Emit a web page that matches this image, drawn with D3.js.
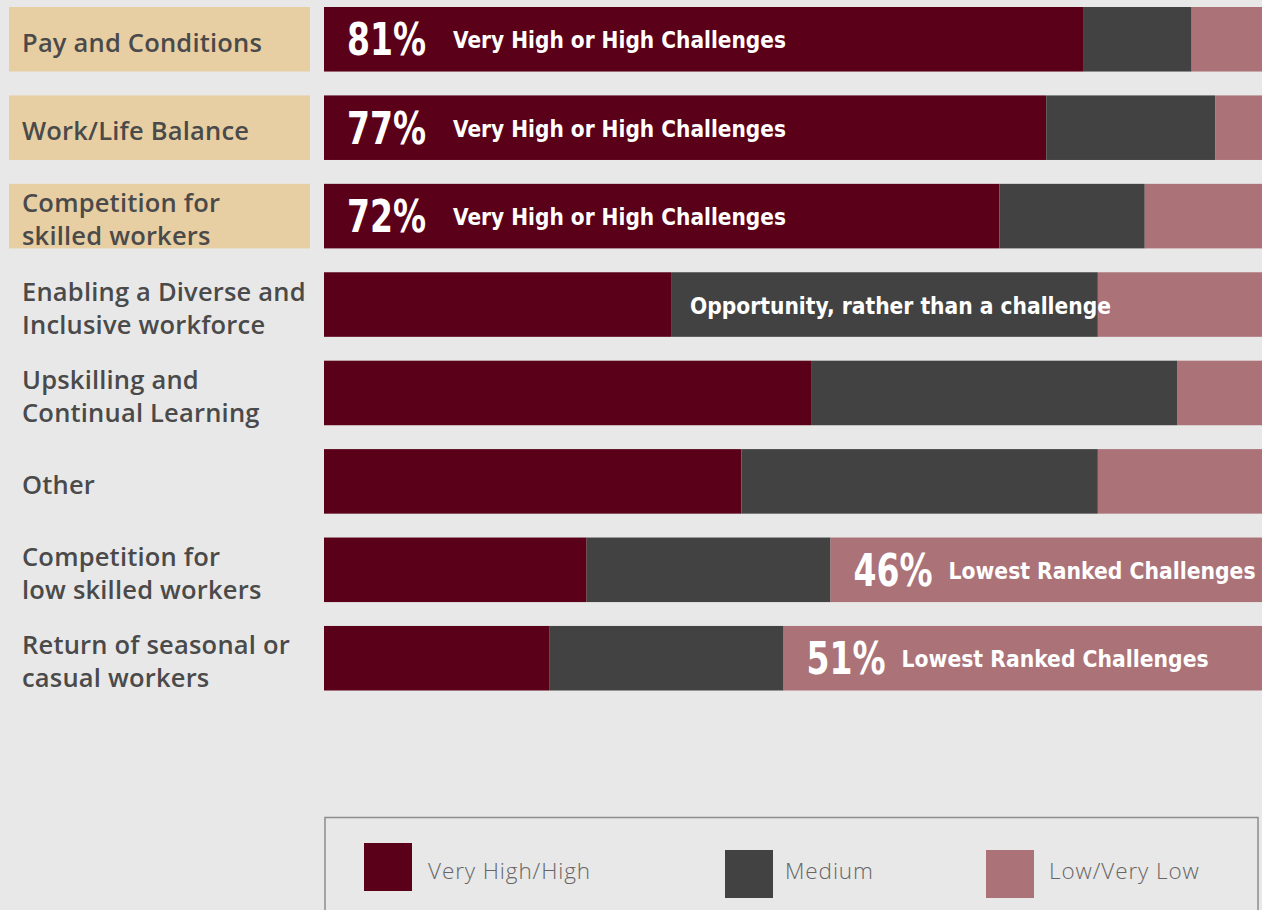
<!DOCTYPE html>
<html>
<head>
<meta charset="utf-8">
<script src="https://cdn.jsdelivr.net/npm/d3@7"></script>
<style>
  html, body { margin: 0; padding: 0; background: #e8e8e8; }
  svg { display: block; }
</style>
</head>
<body>
<svg id="chart" width="1262" height="910"></svg>
<script>
// Workforce challenges, share of respondents by rating (percent)
const categories = [
  ["Pay and Conditions"],
  ["Work/Life Balance"],
  ["Competition for", "skilled workers"],
  ["Enabling a Diverse and", "Inclusive workforce"],
  ["Upskilling and", "Continual Learning"],
  ["Other"],
  ["Competition for", "low skilled workers"],
  ["Return of seasonal or", "casual workers"]
];
const veryHighHigh = [81, 77, 72, 37, 52, 44.5, 28, 24];
const medium       = [11.5, 18, 15.5, 45.5, 39, 38, 26, 25];
const lowVeryLow   = [7.5, 5, 12.5, 17.5, 9, 17.5, 46, 51];
const highlighted  = [true, true, true, false, false, false, false, false];
const seriesNames  = ["Very High/High", "Medium", "Low/Very Low"];
const seriesColors = ["#5a0018", "#424242", "#ab7378"];

// Callouts written onto the bars: row, series, percentage shown, caption
const callouts = [
  { row: 0, series: 0, pct: "81%", text: "Very High or High Challenges" },
  { row: 1, series: 0, pct: "77%", text: "Very High or High Challenges" },
  { row: 2, series: 0, pct: "72%", text: "Very High or High Challenges" },
  { row: 3, series: 1, pct: null,  text: "Opportunity, rather than a challenge" },
  { row: 6, series: 2, pct: "46%", text: "Lowest Ranked Challenges" },
  { row: 7, series: 2, pct: "51%", text: "Lowest Ranked Challenges" }
];

const svg = d3.select("#chart");
svg.append("rect").attr("width", 1262).attr("height", 910).attr("fill", "#e8e8e8");

const rows = categories.map((c, i) => ({
  id: i,
  label: c,
  values: [veryHighHigh[i], medium[i], lowVeryLow[i]]
}));

const x = d3.scaleLinear().domain([0, 100]).range([324, 1262]);
const y = d3.scaleBand().domain(rows.map(r => r.id)).range([7, 690.5]).paddingInner(0.27).paddingOuter(0);

const stack = d3.stack().keys([0, 1, 2]).value((r, k) => r.values[k]);
const layers = stack(rows);

// category label panels
const labelG = svg.append("g");
labelG.selectAll("rect.panel")
  .data(rows.filter(r => highlighted[r.id]))
  .join("rect")
  .attr("class", "panel")
  .attr("x", 9).attr("width", 301)
  .attr("y", r => y(r.id)).attr("height", y.bandwidth())
  .attr("fill", "#e8cfa3");

labelG.selectAll("text.cat")
  .data(rows)
  .join("text")
  .attr("class", "cat")
  .attr("x", 22)
  .attr("font-family", "'Open Sans', Lato, sans-serif")
  .attr("font-weight", 600)
  .attr("font-size", 25.5)
  .attr("letter-spacing", 0.2)
  .attr("fill", "#4a4a4a")
  .each(function(r) {
    const cy = y(r.id) + y.bandwidth() / 2;
    const t = d3.select(this);
    if (r.label.length === 1) {
      t.append("tspan").attr("x", 22).attr("y", cy + 12.5).text(r.label[0]);
    } else {
      t.append("tspan").attr("x", 22).attr("y", cy - 4).text(r.label[0]);
      t.append("tspan").attr("x", 22).attr("y", cy + 29).text(r.label[1]);
    }
  });

// stacked bars
const barG = svg.append("g");
barG.selectAll("g.layer")
  .data(layers)
  .join("g")
  .attr("class", "layer")
  .attr("fill", (d, i) => seriesColors[i])
  .selectAll("rect")
  .data(d => d)
  .join("rect")
  .attr("x", d => x(d[0]))
  .attr("width", d => x(d[1]) - x(d[0]))
  .attr("y", d => y(d.data.id))
  .attr("height", y.bandwidth());

// callouts
const calloutG = svg.append("g")
  .attr("font-family", "'Liberation Sans Narrow', 'DejaVu Sans Condensed', 'Open Sans', sans-serif")
  .attr("font-weight", 700)
  .attr("fill", "#ffffff");

callouts.forEach(c => {
  const seg = layers[c.series][c.row];
  const cy = y(c.row) + y.bandwidth() / 2;
  let cursor = x(seg[0]);
  if (c.pct) {
    cursor += 23;
    calloutG.append("text")
      .attr("x", cursor).attr("y", cy + 16)
      .attr("font-size", 45)
      .attr("textLength", 79).attr("lengthAdjust", "spacingAndGlyphs")
      .text(c.pct);
    cursor += 79 + (c.row < 3 ? 27 : 16);
  } else {
    cursor += 19;
  }
  calloutG.append("text")
    .attr("x", cursor).attr("y", cy + 9)
    .attr("font-size", 23)
    .attr("textLength", c.pct ? (c.row < 3 ? 333 : 307) : 421)
    .attr("lengthAdjust", "spacingAndGlyphs")
    .text(c.text);
});

// legend
const legend = svg.append("g");
legend.append("rect")
  .attr("x", 325).attr("y", 817.5)
  .attr("width", 933).attr("height", 120)
  .attr("fill", "none").attr("stroke", "#8c8c8c").attr("stroke-width", 1.5);

const legendItems = seriesNames.map((name, i) => ({
  name, color: seriesColors[i],
  sx: [364, 725, 986][i], sy: [843, 850, 850][i], tx: [428, 785, 1049][i]
}));
const li = legend.selectAll("g.item").data(legendItems).join("g").attr("class", "item");
li.append("rect")
  .attr("x", d => d.sx).attr("y", d => d.sy)
  .attr("width", 48).attr("height", 48)
  .attr("fill", d => d.color);
li.append("text")
  .attr("x", d => d.tx).attr("y", 879)
  .attr("font-family", "'Open Sans', Roboto, sans-serif")
  .attr("font-weight", 300)
  .attr("font-size", 22.5)
  .attr("letter-spacing", 0.9)
  .attr("fill", "#666666")
  .text(d => d.name);
</script>
</body>
</html>
